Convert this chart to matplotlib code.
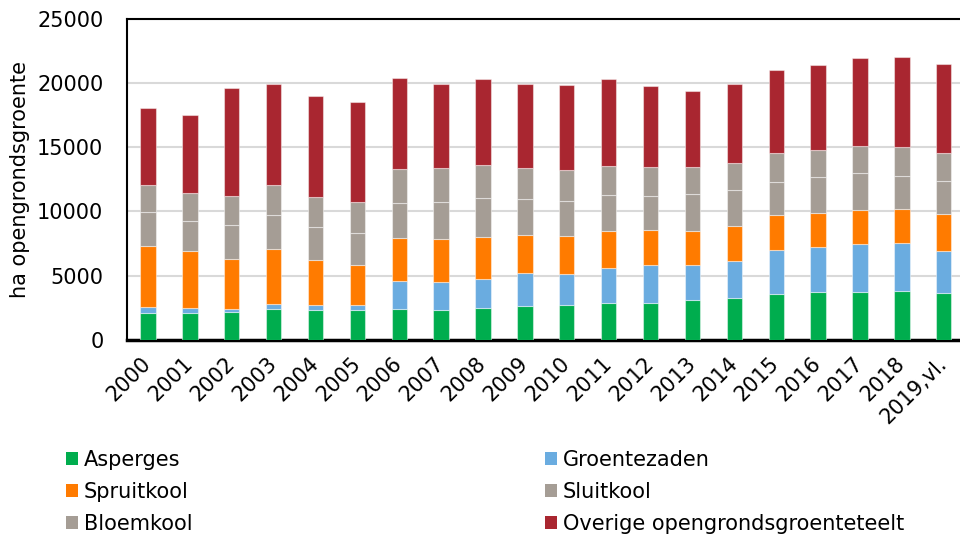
import numpy as np
import matplotlib
matplotlib.use("Agg")
import matplotlib.pyplot as plt
from matplotlib.patches import Patch

# jaren en oppervlakte (ha) per gewas
jaren = ['2000', '2001', '2002', '2003', '2004', '2005', '2006', '2007', '2008', '2009',
         '2010', '2011', '2012', '2013', '2014', '2015', '2016', '2017', '2018', '2019,vl.']
asperges = [2060, 2110, 2160, 2420, 2340, 2300, 2420, 2340, 2450, 2610,
            2690, 2890, 2870, 3100, 3280, 3550, 3750, 3750, 3830, 3670]
groentezaden = [490, 370, 230, 390, 390, 440, 2140, 2160, 2270, 2580,
                2420, 2710, 2990, 2710, 2890, 3410, 3490, 3700, 3700, 3280]
spruitkool = [4790, 4400, 3910, 4250, 3470, 3100, 3330, 3340, 3250, 2990,
              2940, 2910, 2710, 2700, 2730, 2740, 2630, 2630, 2680, 2810]
sluitkool = [2610, 2380, 2630, 2660, 2580, 2500, 2790, 2890, 3080, 2790,
             2790, 2770, 2630, 2840, 2770, 2610, 2810, 2920, 2560, 2610]
bloemkool = [2130, 2210, 2290, 2340, 2340, 2400, 2660, 2630, 2550, 2420,
             2370, 2290, 2270, 2080, 2080, 2230, 2080, 2080, 2290, 2210]
overige = [5980, 6060, 8410, 7910, 7860, 7780, 7050, 6590, 6720, 6580,
           6660, 6790, 6340, 5980, 6170, 6490, 6620, 6880, 6950, 6920]

reeksen = [
    ('Asperges', asperges, '#00ad4e'),
    ('Groentezaden', groentezaden, '#6aace0'),
    ('Spruitkool', spruitkool, '#ff7b00'),
    ('Sluitkool', sluitkool, '#a59d95'),
    ('Bloemkool', bloemkool, '#a59d95'),
    ('Overige opengrondsgroenteteelt', overige, '#a92630'),
]

plt.rcParams['font.family'] = 'DejaVu Sans'
fs = 15

fig = plt.figure(figsize=(9.6, 5.38), dpi=100)
ax = fig.add_axes([0.1323, 0.3686, 0.8726, 0.5961])

x = np.arange(len(jaren))
bodem = np.zeros(len(jaren))
handles = []
for naam, waarden, kleur in reeksen:
    ax.bar(x, waarden, width=0.366, bottom=bodem, color=kleur,
           edgecolor=(1, 1, 1, 0.45), linewidth=0.8, zorder=3)
    bodem += np.array(waarden)
    handles.append(Patch(facecolor=kleur, label=naam))

ax.set_xlim(-0.5, len(jaren) - 0.5)
ax.set_ylim(0, 25000)
ax.set_yticks(np.arange(0, 25001, 5000))
ax.yaxis.grid(True, color='#d9d9d9', linewidth=1.5, zorder=0)
ax.set_axisbelow(True)

ax.set_xticks(x)
ax.set_xticklabels(jaren, rotation=45, ha='right', va='center',
                   rotation_mode='anchor', fontsize=fs)
ax.tick_params(axis='x', length=0, pad=15)
ax.tick_params(axis='y', length=0, pad=17, labelsize=fs)

for side in ['left', 'top', 'right']:
    ax.spines[side].set_linewidth(1.5)
ax.spines['bottom'].set_linewidth(2.5)

fig.text(20 / 960, 1 - 179.5 / 538, 'ha opengrondsgroente', rotation=90,
         ha='center', va='center', fontsize=fs)

# legenda in twee kolommen
links = [handles[0], handles[2], handles[4]]
rechts = [handles[1], handles[3], handles[5]]
opties = dict(loc='upper left', frameon=False, fontsize=fs, handlelength=0.58,
              handleheight=0.58, handletextpad=0.27, labelspacing=0.58,
              borderaxespad=0, borderpad=0)
fig.legend(handles=links, bbox_to_anchor=(66 / 960, 1 - 450 / 538), **opties)
fig.legend(handles=rechts, bbox_to_anchor=(545 / 960, 1 - 450 / 538), **opties)

fig.savefig('out.png', dpi=100)
